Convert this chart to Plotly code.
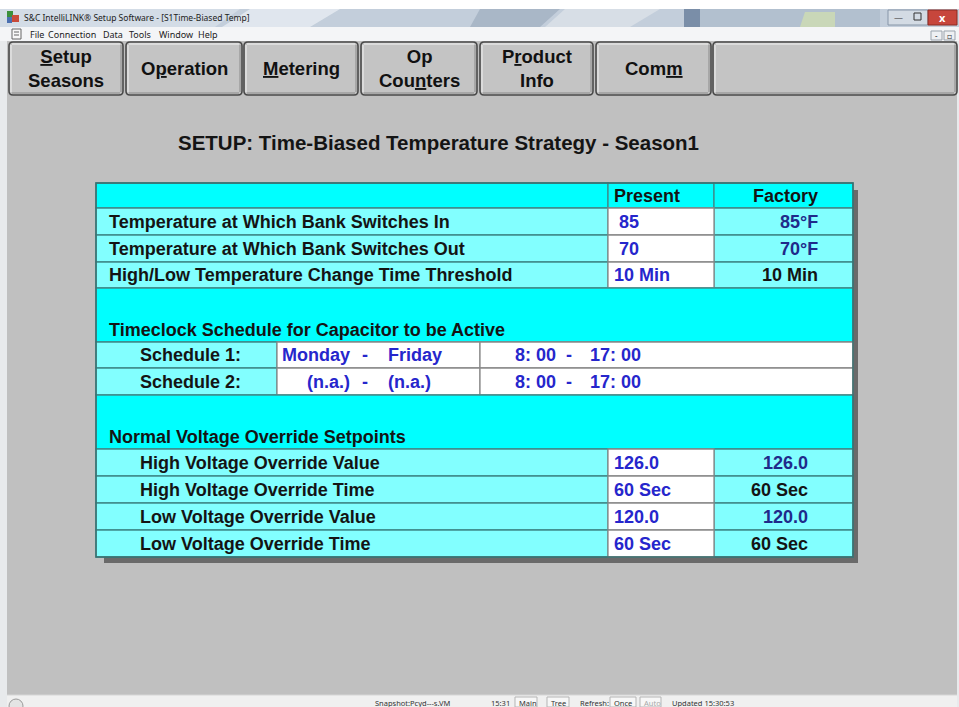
import plotly.graph_objects as go

# ---------------- data (texts / values) ----------------
window_title = "S&C IntelliLINK® Setup Software - [S1Time-Biased Temp]"
menu_items = ["File", "Connection", "Data", "Tools", "Window", "Help"]
button_labels = ["<u>S</u>etup<br>Seasons", "O<u>p</u>eration", "<u>M</u>etering",
                 "Op<br>Cou<u>n</u>ters", "P<u>r</u>oduct<br>Info", "Com<u>m</u>", ""]
page_title = "SETUP: Time-Biased Temperature Strategy - Season1"
column_headers = ["Present", "Factory"]

temp_labels = ["Temperature at Which Bank Switches In",
               "Temperature at Which Bank Switches Out",
               "High/Low Temperature Change Time Threshold"]
temp_present = ["85", "70", "10 Min"]
temp_factory = ["85°F", "70°F", "10 Min"]

schedule_section = "Timeclock Schedule for Capacitor to be Active"
schedule_labels = ["Schedule 1:", "Schedule 2:"]
schedule_day_from = ["Monday", "(n.a.)"]
schedule_day_to = ["Friday", "(n.a.)"]
schedule_time_from = ["8: 00", "8: 00"]
schedule_time_to = ["17: 00", "17: 00"]

voltage_section = "Normal Voltage Override Setpoints"
voltage_labels = ["High Voltage Override Value", "High Voltage Override Time",
                  "Low Voltage Override Value", "Low Voltage Override Time"]
voltage_present = ["126.0", "60 Sec", "120.0", "60 Sec"]
voltage_factory = ["126.0", "60 Sec", "120.0", "60 Sec"]

status_items = ["Snapshot:Pcyd---s.VM", "15:31", "Main", "Tree", "Refresh:", "Once", "Auto", "Updated 15:30:53"]

# ---------------- layout constants (pixel space) ----------------
W, H = 959, 707
FONT = "Liberation Sans, Arial, sans-serif"
UIFONT = "Noto Sans, DejaVu Sans, sans-serif"
BG = "#c0c0c0"
CYAN, LCYAN, WHITE = "#00ffff", "#82ffff", "#ffffff"
TEAL_LINE, GRAY_LINE = "#3f8a8a", "#8a8a8a"
BLACK_TXT, BLUE_TXT, NAVY_TXT = "#141414", "#2626cc", "#1f2a8a"

menu_x = [28, 46, 101, 127, 157, 196]
button_x = [(9, 123), (126, 242), (244, 358), (361, 477), (480, 593), (596, 711), (713, 957)]
BTN_Y = (42, 95)

TL, TR = 96, 853
C1, C2 = 608, 714
S1, S2 = 277, 480
HEADER_Y = (183, 208)
TEMP_Y = [(208, 235), (235, 262), (262, 288)]
SEC1_Y = (288, 342)
SCHED_Y = [(342, 368), (368, 395)]
SEC2_Y = (395, 449)
VOLT_Y = [(449, 476), (476, 503), (503, 530), (530, 557)]
present_x_temp = [617, 617, 612]
factory_right_temp = 820
factory_right_volt = 810
status_x = [373, 489, 517, 549, 578, 612, 642, 670]
status_boxed = {"Main": 22, "Tree": 22, "Once": 26, "Auto": 21}

shapes = []
annotations = []


def rect(x0, y0, x1, y1, fill, line=None, lw=0, layer="below"):
    shapes.append(dict(type="rect", xref="x", yref="y", x0=x0, y0=y0, x1=x1, y1=y1,
                       fillcolor=fill, line=dict(color=line or fill, width=lw), layer=layer))


def path(p, fill, line=None, lw=0, opacity=1.0):
    shapes.append(dict(type="path", xref="x", yref="y", path=p, fillcolor=fill, opacity=opacity,
                       line=dict(color=line or fill, width=lw), layer="below"))


def seg(x0, y0, x1, y1, color, lw=1):
    shapes.append(dict(type="line", xref="x", yref="y", x0=x0, y0=y0, x1=x1, y1=y1,
                       line=dict(color=color, width=lw), layer="below"))


def text(x, y, s, size=18, color=BLACK_TXT, anchor="left", bold=True, family=FONT):
    annotations.append(dict(x=x, y=y, xref="x", yref="y", text=s, showarrow=False,
                            xanchor=anchor, yanchor="middle",
                            font=dict(family=family, size=size, color=color,
                                      weight="bold" if bold else "normal")))


def rrect_path(x0, y0, x1, y1, r):
    return (f"M{x0+r},{y0} L{x1-r},{y0} Q{x1},{y0} {x1},{y0+r} L{x1},{y1-r} "
            f"Q{x1},{y1} {x1-r},{y1} L{x0+r},{y1} Q{x0},{y1} {x0},{y1-r} "
            f"L{x0},{y0+r} Q{x0},{y0} {x0+r},{y0} Z")


# ---------------- window chrome ----------------
rect(0, 0, W, H, BG)
rect(0, 0, W, 9, "#ffffff")
# title bar
rect(0, 9, W, 27, "#c3cedb")
path("M0,9 L240,9 L215,27 L0,27 Z", "#d3dce6")
path("M250,9 L340,9 L310,27 L222,27 Z", "#e3e9ef", opacity=0.9)
path("M480,9 L560,9 L540,27 L470,27 Z", "#a9b7c7")
path("M565,9 L660,9 L630,27 L545,27 Z", "#d7dee6")
rect(684, 9, 700, 27, "#7a8ea8")
rect(700, 9, 880, 27, "#b2c0cf")
path("M805,12 L835,12 L835,27 L800,27 Z", "#c9d7b8")
# window controls
rect(888, 10, 928, 25, "#d3dbe4", "#8796a8", 1)
text(898, 17, "—", size=9, color="#333", anchor="center", bold=False, family=UIFONT)
rect(914, 13, 921, 20, "rgba(0,0,0,0)", "#333", 1, layer="above")
rect(928, 10, 957, 25, "#c7463c", "#8a2a22", 1)
text(942.5, 17, "x", size=11, color="#ffffff", anchor="center", bold=True, family=UIFONT)
# app icon
rect(7, 11, 13, 17, "#3b8f3b")
rect(12, 15, 19, 22, "#c84a3a")
rect(7, 17, 12, 23, "#4a6fb0")
text(22, 17, window_title, size=8.5, color="#222", bold=False, family=UIFONT)
# menu bar
rect(0, 27, W, 41, "#f4f5f7")
rect(12, 29, 21, 39, "#f8f8f8", "#666", 1)
seg(14, 32, 19, 32, "#666")
seg(14, 35, 19, 35, "#666")
for mx, m in zip(menu_x, menu_items):
    text(mx, 34, m, size=9, color="#222", bold=False, family=UIFONT)
rect(931, 31, 942, 40, "#eef0f3", "#9aa3ad", 1)
rect(944, 31, 955, 40, "#eef0f3", "#9aa3ad", 1)
text(936.5, 35, "-", size=8, color="#333", anchor="center", bold=False, family=UIFONT)
text(949.5, 35, "▫", size=8, color="#333", anchor="center", bold=False, family=UIFONT)
# left/right frame
rect(0, 41, 7, H, "#e8eaec")
rect(957, 41, W, H, "#e8eaec")

# ---------------- toolbar buttons ----------------
for (bx0, bx1), lbl in zip(button_x, button_labels):
    path(rrect_path(bx0, BTN_Y[0], bx1, BTN_Y[1], 4), "#c4c4c4", "#4a4a4a", 1.6)
    seg(bx0 + 3, BTN_Y[0] + 2, bx1 - 3, BTN_Y[0] + 2, "#f2f2f2", 1)
    seg(bx0 + 2, BTN_Y[0] + 3, bx0 + 2, BTN_Y[1] - 3, "#f2f2f2", 1)
    seg(bx0 + 3, BTN_Y[1] - 2, bx1 - 3, BTN_Y[1] - 2, "#8a8a8a", 1)
    seg(bx1 - 2, BTN_Y[0] + 3, bx1 - 2, BTN_Y[1] - 3, "#8a8a8a", 1)
    if lbl:
        text((bx0 + bx1) / 2, 68.5, lbl, size=18.5, color="#111", anchor="center")

# ---------------- page title ----------------
text(438, 142, page_title, size=20.5, color="#141414", anchor="center")

# ---------------- table ----------------
rect(104, 190, 858, 563, "#6a6a6a")  # drop shadow

# header row
rect(TL, HEADER_Y[0], C1, HEADER_Y[1], CYAN, TEAL_LINE, 1.3)
rect(C1, HEADER_Y[0], C2, HEADER_Y[1], CYAN, TEAL_LINE, 1.3)
rect(C2, HEADER_Y[0], TR, HEADER_Y[1], CYAN, TEAL_LINE, 1.3)
hy = sum(HEADER_Y) / 2
text(612, hy, column_headers[0])
text(factory_right_temp, hy, column_headers[1], anchor="right")


def value_rows(labels, present, factory, ys, label_x, present_xs, factory_right):
    for lbl, pv, fv, (y0, y1), px in zip(labels, present, factory, ys, present_xs):
        rect(TL, y0, C1, y1, LCYAN, TEAL_LINE, 1.3)
        rect(C2, y0, TR, y1, LCYAN, TEAL_LINE, 1.3)
        rect(C1, y0, C2, y1, WHITE, GRAY_LINE, 1.3)
        yc = (y0 + y1) / 2
        text(label_x, yc, lbl)
        text(px, yc, pv, color=BLUE_TXT)
        fcol = BLACK_TXT if ("Min" in fv or "Sec" in fv) else NAVY_TXT
        text(factory_right, yc, fv, color=fcol, anchor="right")


value_rows(temp_labels, temp_present, temp_factory, TEMP_Y, 107, present_x_temp, factory_right_temp)

# schedule section
rect(TL, SEC1_Y[0], TR, SEC1_Y[1], CYAN, TEAL_LINE, 1.3)
text(107, SEC1_Y[1] - 12, schedule_section)
for lbl, d0, d1, t0, t1, (y0, y1) in zip(schedule_labels, schedule_day_from, schedule_day_to,
                                         schedule_time_from, schedule_time_to, SCHED_Y):
    rect(TL, y0, S1, y1, LCYAN, TEAL_LINE, 1.3)
    rect(S1, y0, S2, y1, WHITE, GRAY_LINE, 1.3)
    rect(S2, y0, TR, y1, WHITE, GRAY_LINE, 1.3)
    yc = (y0 + y1) / 2
    text(138, yc, lbl)
    text(352, yc, d0, color=BLUE_TXT, anchor="right")
    text(365, yc, "-", color=BLUE_TXT, anchor="center")
    text(386, yc, d1, color=BLUE_TXT)
    text(513, yc, t0, color=BLUE_TXT)
    text(569, yc, "-", color=BLUE_TXT, anchor="center")
    text(588, yc, t1, color=BLUE_TXT)

# voltage section
rect(TL, SEC2_Y[0], TR, SEC2_Y[1], CYAN, TEAL_LINE, 1.3)
text(107, SEC2_Y[1] - 12, voltage_section)
value_rows(voltage_labels, voltage_present, voltage_factory, VOLT_Y, 138,
           [612] * len(voltage_labels), factory_right_volt)

# outer border
rect(TL, HEADER_Y[0], TR, VOLT_Y[-1][1], "rgba(0,0,0,0)", "#3a6f6f", 1.5, layer="above")

# ---------------- status bar ----------------
rect(7, 695, 957, H, "#f0f0f0")
seg(7, 695, 957, 695, "#d6d6d6", 1)
shapes.append(dict(type="circle", xref="x", yref="y", x0=9, y0=699, x1=23, y1=713,
                   line=dict(color="#9a9a9a", width=1), fillcolor="#e4e4e4", layer="below"))
for sx, s in zip(status_x, status_items):
    if s in status_boxed:
        rect(sx - 2, 697, sx - 2 + status_boxed[s], H, "#f7f7f7", "#b5b5b5", 1)
    col = "#a8a8a8" if s == "Auto" else "#333"
    text(sx, 702.5, s, size=7.5, color=col, bold=False, family=UIFONT)

# ---------------- figure ----------------
fig = go.Figure()
fig.update_layout(
    width=W, height=H, autosize=False,
    margin=dict(l=0, r=0, t=0, b=0, pad=0),
    paper_bgcolor=BG, plot_bgcolor=BG,
    xaxis=dict(range=[0, W], visible=False, fixedrange=True),
    yaxis=dict(range=[H, 0], visible=False, fixedrange=True),
    shapes=shapes, annotations=annotations, showlegend=False,
)
fig.write_html("out.html", config={"displayModeBar": False},
               post_script="document.body.style.margin='0';document.body.style.overflow='hidden';")
